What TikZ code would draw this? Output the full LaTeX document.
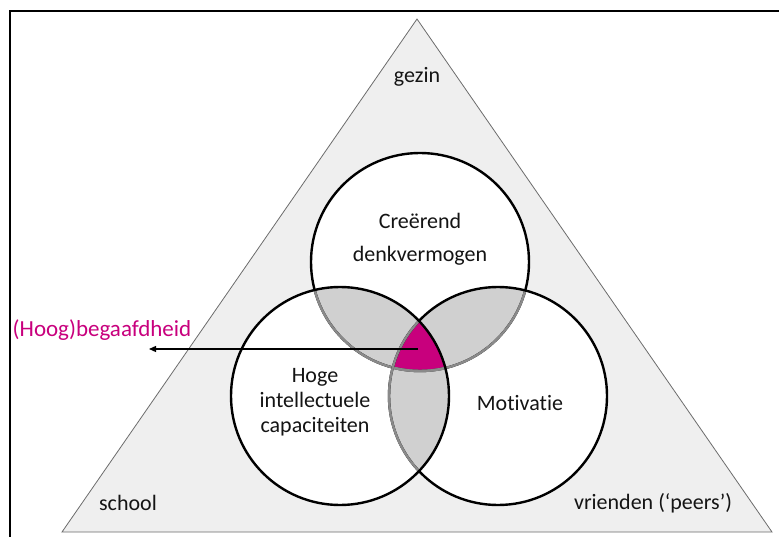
\documentclass[tikz,border=0pt]{standalone}
\usepackage{fontspec}
\setmainfont{Carlito}[Ligatures=NoCommon]
\usetikzlibrary{arrows.meta}
\definecolor{mag}{HTML}{C8007D}
\definecolor{trifill}{HTML}{EFEFEF}
\definecolor{lensgray}{HTML}{D0D0D0}
\definecolor{arcgray}{HTML}{8A8A8A}
\definecolor{txt}{HTML}{141414}
\begin{document}
\begin{tikzpicture}[x=1pt,y=-1pt,
  lbl/.style={font=\fontsize{22}{25}\selectfont, text=txt, align=center, inner sep=0pt},
  ring/.style={draw=black, line width=2.4pt},
  hidden/.style={draw=arcgray, line width=2.4pt},
  lens/.style={fill=lensgray}]
\useasboundingbox (0,0) rectangle (779,537);
% frame
\draw[line width=2pt] (10,537) -- (10,11) -- (779,11);
% triangle
\coordinate (apex) at (417,19);
\coordinate (bl) at (62,532);
\coordinate (br) at (772,532);
\draw[fill=trifill, draw=gray!85!black, line width=0.8pt] (apex) -- (br) -- (bl) -- cycle;
% circle centres
\coordinate (T) at (420,262);
\coordinate (L) at (340,396);
\coordinate (R) at (498,396);
\def\rr{109pt}
% white fills
\fill[white] (T) circle[radius=\rr];
\fill[white] (L) circle[radius=\rr];
\fill[white] (R) circle[radius=\rr];
% lenses
\begin{scope}
  \clip (T) circle[radius=\rr];
  \fill[lens] (L) circle[radius=\rr];
  \fill[lens] (R) circle[radius=\rr];
\end{scope}
\begin{scope}
  \clip (L) circle[radius=\rr];
  \fill[lens] (R) circle[radius=\rr];
\end{scope}
% triple intersection
\begin{scope}
  \clip (T) circle[radius=\rr];
  \clip (L) circle[radius=\rr];
  \fill[mag] (R) circle[radius=\rr];
\end{scope}
% outlines
\draw[ring] (T) circle[radius=\rr];
\begin{scope}
  \clip (L) circle[radius=\rr];
  \draw[hidden] (T) circle[radius=\rr];
\end{scope}
\begin{scope}
  \clip (R) circle[radius=\rr];
  \draw[hidden] (T) circle[radius=\rr];
\end{scope}
\draw[ring] (R) circle[radius=\rr];
\begin{scope}
  \clip (L) circle[radius=\rr];
  \draw[hidden] (R) circle[radius=\rr];
\end{scope}
\draw[ring] (L) circle[radius=\rr];
% labels
\node[lbl] (gezin) at (417,77) {gezin};
\node[lbl, font=\fontsize{22}{33}\selectfont] (cre) at (420,239) {Creërend\\denkvermogen};
\node[lbl] (hoge) at (315,402) {Hoge\\intellectuele\\capaciteiten};
\node[lbl] (moti) at (520,403) {Motivatie};
\node[lbl] (school) at (128,503) {school};
\node[lbl] (vrienden) at (653,503) {vrienden (‘peers’)};
\node[lbl, text=mag, font=\fontsize{23}{26}\selectfont] (hb) at (102,330) {(Hoog)begaafdheid};
% arrow
\coordinate (src) at (418,349);
\coordinate (tip) at (149,349);
\draw[-{Triangle[length=7pt,width=6pt]}, line width=1.2pt] (src) -- (tip);
\end{tikzpicture}
\end{document}
